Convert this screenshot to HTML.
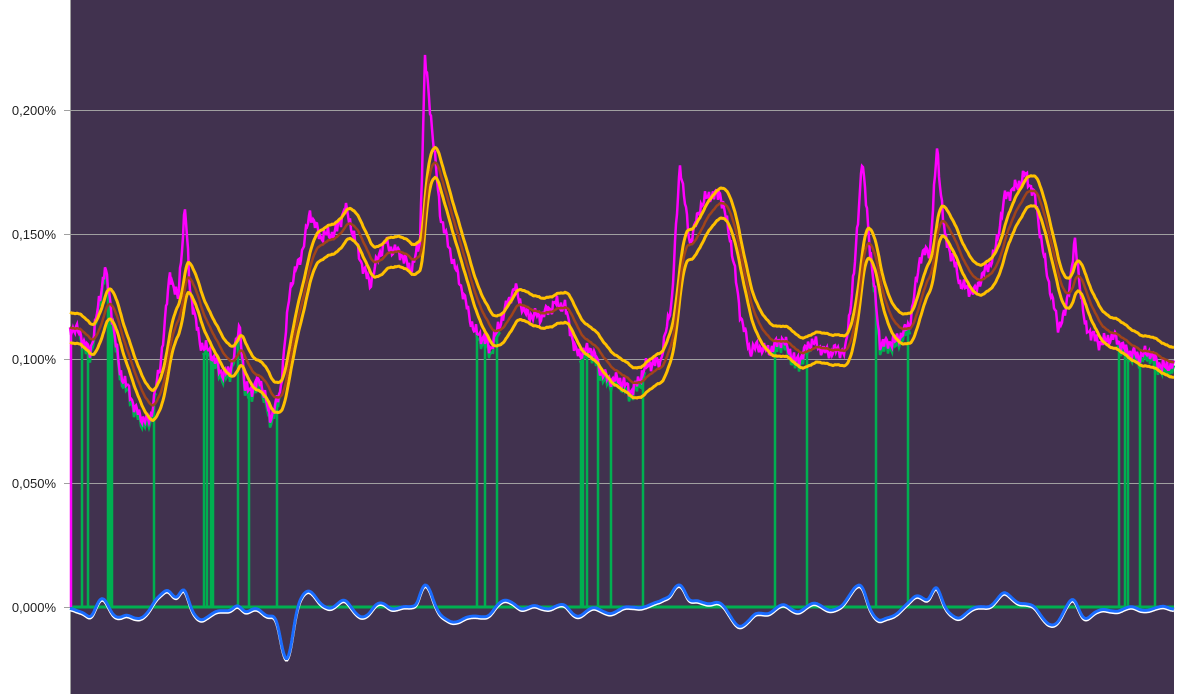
<!DOCTYPE html>
<html><head><meta charset="utf-8"><style>
body{margin:0;background:#fff;width:1178px;height:694px;overflow:hidden;font-family:"Liberation Sans",sans-serif}
svg{position:absolute;left:0;top:0}
</style></head><body>
<svg id="s" width="1178" height="694" xmlns="http://www.w3.org/2000/svg">
<rect x="70" y="0" width="1104" height="694" fill="#41324f"/>
<g stroke="#a0a0a0" stroke-width="1">
<line x1="70" x2="1174" y1="110.5" y2="110.5"/>
<line x1="70" x2="1174" y1="234.5" y2="234.5"/>
<line x1="70" x2="1174" y1="359.5" y2="359.5"/>
<line x1="70" x2="1174" y1="483.5" y2="483.5"/>
<line x1="64" x2="1174" y1="607.5" y2="607.5"/>
<line x1="64" x2="70" y1="110.5" y2="110.5"/>
<line x1="64" x2="70" y1="234.5" y2="234.5"/>
<line x1="64" x2="70" y1="359.5" y2="359.5"/>
<line x1="64" x2="70" y1="483.5" y2="483.5"/>
<line x1="70.5" x2="70.5" y1="0" y2="694"/>
</g>
<g font-size="13" fill="#222" text-anchor="end">
<text x="56" y="115">0,200%</text>
<text x="56" y="239">0,150%</text>
<text x="56" y="364">0,100%</text>
<text x="56" y="488">0,050%</text>
<text x="56" y="612">0,000%</text>
</g>
<g id="g"></g>
</svg>
<script>
var K=[[70,330],[80,335],[90,350],[100,300],[105,270],[110,300],[120,370],[135,410],[150,420],[160,370],[170,270],[178,300],[185,210],[190,290],[200,340],[210,355],[220,370],[230,370],[240,330],[245,390],[260,380],[270,420],[280,390],[290,290],[300,260],[310,210],[320,240],[335,230],[345,210],[355,240],[370,285],[385,240],[400,255],[410,270],[420,240],[425,60],[432,130],[440,210],[455,270],[465,300],[475,330],[490,350],[500,320],[515,290],[525,310],[540,320],[555,300],[565,310],[575,350],[590,350],[600,370],[615,380],[630,390],[645,370],[660,360],[672,300],[680,165],[690,240],[700,210],[710,195],[720,190],[730,240],[740,310],[750,350],[765,350],[780,340],[795,360],[810,345],[830,350],[845,355],[855,260],[862,160],[870,250],[880,340],[895,345],[910,320],[920,260],[930,250],[937,145],[945,240],[960,280],[975,295],[985,270],[995,250],[1005,200],[1015,185],[1025,175],[1035,200],[1045,260],[1058,330],[1065,315],[1075,240],[1085,330],[1100,340],[1115,340],[1130,350],[1140,360],[1150,350],[1165,370],[1174,365]];
var P=[],j=0;
for(var x=70;x<=1174;x++){while(K[j+1]&&K[j+1][0]<x)j++;var a=K[j],b=K[j+1]||a;var t=b[0]==a[0]?0:(x-a[0])/(b[0]-a[0]);
var y=a[1]+(b[1]-a[1])*t+4*Math.sin(x*1.7)+3*Math.sin(x*0.63)+2*Math.sin(x*3.1)+3*Math.sin(x*0.23);P.push(y);}
var M=[],e=P[0];for(var i=0;i<P.length;i++){e+=0.075*(P[i]-e);M.push(e);}
function path(arr,off,s0,s1){var s="";s0=s0||0;s1=s1===undefined?arr.length-1:s1;for(var i=s0;i<=s1;i++)s+=(i==s0?"M":"L")+(70+i)+","+(arr[i]+(off||0)).toFixed(1);return s;}
var U=M.map(function(v){return v-15}),L=M.map(function(v){return v+15});
var B=[];for(var i=0;i<P.length;i++){var d=(M[Math.min(i+4,P.length-1)]-M[Math.max(i-4,0)]);var xx=i+70;var v=607+d*0.45+3*Math.sin(i*0.2)+75*Math.exp(-Math.pow((xx-287)/8,2))+12*Math.exp(-Math.pow((xx-92)/6,2));if(v<585)v=585;if(v>660)v=660;B.push(v);}
var Bs=[];for(var i=0;i<B.length;i++){var s=0,n=0;for(var k=-3;k<=3;k++){var q=B[i+k];if(q!==undefined){s+=q;n++;}}Bs.push(s/n);}
var h='';
h+='<line x1="70" x2="1174" y1="607" y2="607" stroke="#e020e0" stroke-width="3"/>';
var R=[[80,156],[203,280],[476,500],[580,645],[773,810],[873,910],[1117,1174]];
var gp='';R.forEach(function(r){gp+=path(P,5,r[0]-70,Math.min(r[1]-70,P.length-1));});
h+='<path d="'+gp+'" fill="none" stroke="#00b050" stroke-width="2.5"/>';
var V=[82,88,108,110,112,154,204,207,211,213,238,249,277,477,485,497,581,583,587,598,611,643,775,807,876,908,1119,1125,1128,1140,1155];
V.forEach(function(x){h+='<line x1="'+x+'" x2="'+x+'" y1="607" y2="'+(P[x-70]+5).toFixed(1)+'" stroke="#00b050" stroke-width="2.5"/>';});
h+='<line x1="70" x2="1174" y1="607" y2="607" stroke="#00b050" stroke-width="3"/>';
h+='<line x1="71" x2="71" y1="330" y2="607" stroke="#ff00ff" stroke-width="2.5"/>';
h+='<path d="'+path(P)+'" fill="none" stroke="#ff00ff" stroke-width="2.5"/>';
h+='<path d="'+path(U)+'" fill="none" stroke="#ffc000" stroke-width="3"/>';
h+='<path d="'+path(L)+'" fill="none" stroke="#ffc000" stroke-width="3"/>';
h+='<path d="'+path(M)+'" fill="none" stroke="#a0441a" stroke-width="2.5"/>';
h+='<path d="'+path(Bs,1.5)+'" fill="none" stroke="#ffffff" stroke-width="3"/>';
h+='<path d="'+path(Bs)+'" fill="none" stroke="#1a6cff" stroke-width="3"/>';
document.getElementById('g').innerHTML=h;
</script>
</body></html>
